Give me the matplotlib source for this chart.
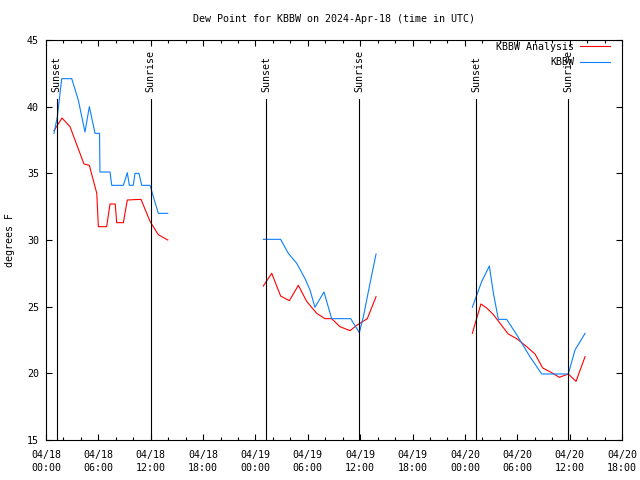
import numpy as np
import pandas as pd
import matplotlib
matplotlib.use("Agg")
import matplotlib.pyplot as plt
import matplotlib.dates as mdates

# KBBW analysis (red), three overnight windows, NaN = gap
ana_time = ["2024-04-18 00:55", "2024-04-18 01:50", "2024-04-18 02:45", "2024-04-18 04:21",
            "2024-04-18 04:58", "2024-04-18 05:49", "2024-04-18 06:00", "2024-04-18 06:57",
            "2024-04-18 07:20", "2024-04-18 07:56", "2024-04-18 08:06", "2024-04-18 08:52",
            "2024-04-18 09:19", "2024-04-18 10:53", "2024-04-18 11:55", "2024-04-18 12:52",
            "2024-04-18 13:57", "2024-04-18 18:00",
            "2024-04-19 00:54", "2024-04-19 01:52", "2024-04-19 02:53", "2024-04-19 03:53",
            "2024-04-19 04:55", "2024-04-19 05:52", "2024-04-19 07:01", "2024-04-19 07:58",
            "2024-04-19 08:44", "2024-04-19 09:41", "2024-04-19 10:50", "2024-04-19 11:36",
            "2024-04-19 12:49", "2024-04-19 13:49", "2024-04-19 18:00",
            "2024-04-20 00:51", "2024-04-20 01:50", "2024-04-20 02:30", "2024-04-20 03:16",
            "2024-04-20 04:58", "2024-04-20 05:56", "2024-04-20 07:05", "2024-04-20 08:02",
            "2024-04-20 08:55", "2024-04-20 09:57", "2024-04-20 10:49", "2024-04-20 11:51",
            "2024-04-20 12:44", "2024-04-20 13:46"]
ana_dewp = [38.2, 39.15, 38.5, 35.7, 35.6, 33.5, 31.0, 31.0, 32.7, 32.7, 31.3, 31.3,
            33.0, 33.05, 31.4, 30.4, 30.0, np.nan,
            26.55, 27.5, 25.8, 25.45, 26.6, 25.4, 24.5, 24.1, 24.1, 23.5, 23.2, 23.6,
            24.1, 25.75, np.nan,
            23.0, 25.2, 24.9, 24.4, 22.95, 22.6, 22.0, 21.45, 20.4, 20.05, 19.7, 19.95,
            19.4, 21.25]

# KBBW observations (blue)
obs_time = ["2024-04-18 00:55", "2024-04-18 01:18", "2024-04-18 01:48", "2024-04-18 02:57",
            "2024-04-18 03:42", "2024-04-18 04:28", "2024-04-18 04:58", "2024-04-18 05:37",
            "2024-04-18 05:53", "2024-04-18 06:08", "2024-04-18 06:11", "2024-04-18 07:20",
            "2024-04-18 07:32", "2024-04-18 08:52", "2024-04-18 09:19", "2024-04-18 09:33",
            "2024-04-18 10:00", "2024-04-18 10:12", "2024-04-18 10:39", "2024-04-18 10:58",
            "2024-04-18 11:55", "2024-04-18 12:52", "2024-04-18 13:57", "2024-04-18 18:00",
            "2024-04-19 00:54", "2024-04-19 02:53", "2024-04-19 03:46", "2024-04-19 04:44",
            "2024-04-19 05:41", "2024-04-19 06:15", "2024-04-19 06:49", "2024-04-19 07:51",
            "2024-04-19 08:44", "2024-04-19 10:55", "2024-04-19 11:54", "2024-04-19 12:22",
            "2024-04-19 13:03", "2024-04-19 13:49", "2024-04-19 18:00",
            "2024-04-20 00:51", "2024-04-20 01:56", "2024-04-20 02:48", "2024-04-20 03:16",
            "2024-04-20 03:50", "2024-04-20 04:47", "2024-04-20 05:56", "2024-04-20 07:27",
            "2024-04-20 08:48", "2024-04-20 11:51", "2024-04-20 12:37", "2024-04-20 13:46"]
obs_dewp = [38.0, 39.25, 42.1, 42.1, 40.5, 38.1, 40.0, 38.0, 38.0, 38.0, 35.1, 35.1,
            34.1, 34.1, 35.05, 34.1, 34.1, 35.0, 35.0, 34.1, 34.1, 32.0, 32.0, np.nan,
            30.05, 30.05, 29.0, 28.25, 27.1, 26.25, 24.95, 26.1, 24.1, 24.1, 23.05, 24.25,
            26.5, 28.95, np.nan,
            24.95, 26.9, 28.05, 26.0, 24.05, 24.05, 22.9, 21.25, 19.95, 19.95, 21.75, 23.0]

sun_time = ["2024-04-18 01:14", "2024-04-18 12:00", "2024-04-19 01:15",
            "2024-04-19 11:54", "2024-04-20 01:16", "2024-04-20 11:51"]
sun_label = ["Sunset", "Sunrise", "Sunset", "Sunrise", "Sunset", "Sunrise"]

ana_t = pd.to_datetime(ana_time)
obs_t = pd.to_datetime(obs_time)
sun_t = pd.to_datetime(sun_time)

plt.rcParams['font.family'] = 'DejaVu Sans Mono'
plt.rcParams['font.size'] = 7.2

fig = plt.figure(figsize=(6.4, 4.8), dpi=100)
ax = fig.add_axes([46/640, 40/480, 576/640, 400/480])

ax.plot(ana_t, ana_dewp, color='#ff0000', lw=0.8, label='KBBW Analysis')
ax.plot(obs_t, obs_dewp, color='#0a7fff', lw=0.8, label='KBBW')

for t, lab in zip(sun_t, sun_label):
    ax.plot([t, t], [15, 40.6], color='black', lw=0.8)
    ax.text(t, 41.1, lab, rotation=90, ha='center', va='bottom')

ax.set_xlim(pd.Timestamp("2024-04-18 00:00"), pd.Timestamp("2024-04-20 18:00"))
ax.set_ylim(15, 45)
ax.set_yticks(np.arange(15, 46, 5))
ax.xaxis.set_major_locator(mdates.HourLocator(byhour=[0, 6, 12, 18]))
ax.xaxis.set_minor_locator(mdates.HourLocator(interval=2))
ax.xaxis.set_major_formatter(mdates.DateFormatter('%m/%d\n%H:%M'))

ax.tick_params(which='both', direction='in', top=True, right=True, width=0.8)
ax.tick_params(which='major', length=4.5)
ax.tick_params(which='minor', length=2.5)
ax.tick_params(axis='x', pad=7)
ax.tick_params(axis='y', pad=5)
for lbl in ax.get_xticklabels():
    lbl.set_linespacing(1.35)
for s in ax.spines.values():
    s.set_linewidth(0.8)

fig.text(334/640, 1 - 19/480, 'Dew Point for KBBW on 2024-Apr-18 (time in UTC)',
         ha='center', va='center')
fig.text(10/640, 0.5, 'degrees F', rotation=90, ha='center', va='center')

ax.legend(loc='upper right', bbox_to_anchor=(1 - 12/576, 1 - 2/400), frameon=False,
          markerfirst=False, handlelength=3.0, handletextpad=0.6, labelspacing=0.55,
          borderpad=0, borderaxespad=0)

fig.savefig('out.png', dpi=100)
